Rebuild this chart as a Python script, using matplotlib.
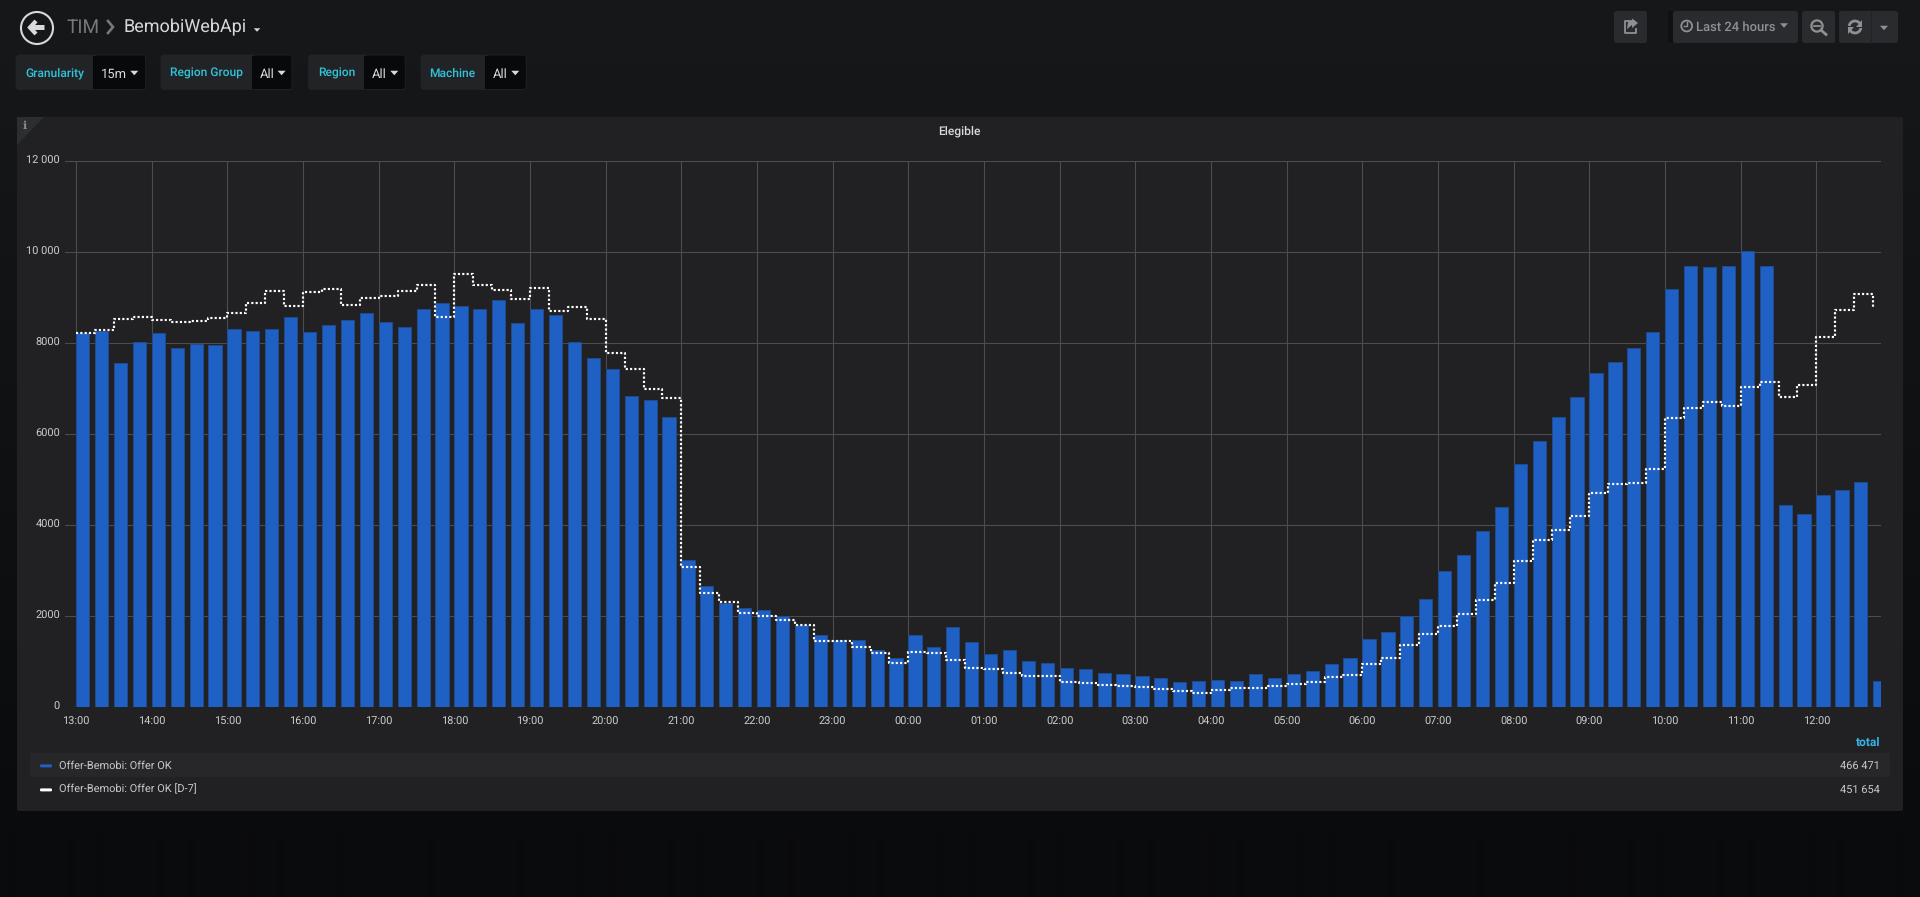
import numpy as np
import matplotlib
matplotlib.use("Agg")
import matplotlib.pyplot as plt
from matplotlib.patches import FancyBboxPatch, Polygon, Circle, Rectangle, Arc

plt.rcParams['font.family'] = ['Roboto', 'DejaVu Sans']
plt.rcParams['text.hinting'] = 'no_hinting'
plt.rcParams['text.hinting_factor'] = 1

offer_ok = [
    8220, 8264, 7560, 8022, 8220, 7890, 7993, 7963, 8315, 8278, 8322, 8571, 8250, 8395, 8520, 8660,
    8460, 8360, 8747, 8894, 8820, 8747, 8945, 8440, 8747, 8615, 8030, 7678, 7436, 6850, 6762, 6381,
    3238, 2667, 2286, 2176, 2132, 2000, 1810, 1582, 1480, 1480, 1260, 1092, 1582, 1319, 1758, 1429,
    1165, 1253, 1011, 974, 857, 850, 755, 733, 696, 637, 564, 571, 601, 579, 733, 645,
    725, 806, 952, 1077, 1502, 1656, 2000, 2381, 3004, 3341, 3875, 4403, 5348, 5850, 6388, 6813,
    7355, 7582, 7897, 8256, 9187, 9707, 9670, 9692, 10022, 9700, 4447, 4242, 4659, 4777, 4945, 585,
]
offer_ok_d7 = [
    8234, 8293, 8535, 8571, 8520, 8469, 8498, 8557, 8674, 8879, 9143, 8820, 9136, 9201, 8835, 9004,
    9033, 9150, 9289, 8571, 9516, 9282, 9165, 8974, 9216, 8718, 8791, 8542, 7795, 7436, 7004, 6799,
    3084, 2520, 2308, 2066, 2000, 1912, 1817, 1458, 1458, 1319, 1194, 982, 1216, 1201, 1048, 857,
    850, 755, 696, 689, 564, 535, 491, 462, 447, 410, 359, 322, 388, 418, 432, 469,
    505, 549, 667, 711, 945, 1084, 1363, 1612, 1788, 2059, 2352, 2733, 3223, 3685, 3900, 4212,
    4718, 4908, 4923, 5238, 6366, 6586, 6703, 6615, 7048, 7158, 6828, 7084, 8132, 8740, 9077, 8784,
]
step_minutes = 15
hour_labels = ["13:00", "14:00", "15:00", "16:00", "17:00", "18:00", "19:00", "20:00", "21:00", "22:00",
               "23:00", "00:00", "01:00", "02:00", "03:00", "04:00", "05:00", "06:00", "07:00", "08:00",
               "09:00", "10:00", "11:00", "12:00"]
y_ticks = [0, 2000, 4000, 6000, 8000, 10000, 12000]
y_labels = ["0", "2000", "4000", "6000", "8000", "10 000", "12 000"]
series_names = ["Offer-Bemobi: Offer OK", "Offer-Bemobi: Offer OK [D-7]"]
series_totals = ["466 471", "451 654"]
variables = [("Granularity", "15m"), ("Region Group", "All"), ("Region", "All"), ("Machine", "All")]

W, H = 1920, 897
fig = plt.figure(figsize=(W / 100, H / 100), dpi=100)

# ---------- background layer (pixel coordinates) ----------
bg = fig.add_axes([0, 0, 1, 1], zorder=0)
bg.set_xlim(0, W); bg.set_ylim(H, 0); bg.axis('off')
top = np.array([0x17, 0x18, 0x1a]) / 255
bot = np.array([0x0a, 0x0b, 0x0d]) / 255
frac = np.clip(np.linspace(0, 1, H) / 0.93, 0, 1)[:, None, None]
grad = top[None, None, :] * (1 - frac) + bot[None, None, :] * frac
bg.imshow(grad, extent=(0, W, H, 0), aspect='auto', interpolation='bilinear')
bg.set_xlim(0, W); bg.set_ylim(H, 0)


def rbox(ax, x0, y0, x1, y1, fc, r=2.5, ec='none', lw=0, z=1):
    p = FancyBboxPatch((x0, y0), x1 - x0, y1 - y0, boxstyle=f"round,pad=0,rounding_size={r}",
                       fc=fc, ec=ec, lw=lw, zorder=z, mutation_aspect=1)
    ax.add_patch(p)
    return p


PANEL = '#212124'
rbox(bg, 17, 117, 1903, 811, PANEL, r=2)
bg.add_patch(Polygon([(17, 117), (44, 117), (17, 145)], fc='#2d2e31', ec='none', zorder=2))
bg.add_patch(Rectangle((30, 753), 1860, 24, fc='#27272a', ec='none', zorder=2))

# ---------- chart ----------
px_left, px_right, px_top, px_bottom = 65.0, 1881.0, 161.3, 707.3
ax = fig.add_axes([px_left / W, 1 - px_bottom / H, (px_right - px_left) / W, (px_bottom - px_top) / H], zorder=1)
ax.patch.set_alpha(0)
minutes = np.arange(len(offer_ok)) * step_minutes
px_per_min = 75.67 / 60
xmin = -(76 - px_left) / px_per_min
xmax = (px_right - 76) / px_per_min
ax.set_xlim(xmin, xmax)
ax.set_ylim(0, 12000)
ax.bar(minutes, offer_ok, width=13.2 / px_per_min, align='edge', color='#1f60c4',
       edgecolor='#1f4b8e', linewidth=0.72, zorder=3)
ax.step(minutes, offer_ok_d7, where='post', color='white', linewidth=1.55,
        linestyle=(0, (1, 1)), zorder=4)
ax.set_xticks(np.arange(len(hour_labels)) * 60)
ax.set_xticklabels(hour_labels)
ax.set_yticks(y_ticks)
ax.set_yticklabels(y_labels)
ax.tick_params(axis='both', length=0, labelsize=8.0, labelcolor='#cbcccd')
ax.tick_params(axis='x', pad=6.6)
ax.tick_params(axis='y', pad=3.6)
ax.grid(True, color='#4c4c4e', linewidth=0.8, zorder=1)
ax.set_axisbelow(True)
for s in ax.spines.values():
    s.set_visible(False)
for lab in ax.get_yticklabels():
    lab.set_verticalalignment('center')

# ---------- overlay ----------
ov = fig.add_axes([0, 0, 1, 1], zorder=2)
ov.set_xlim(0, W); ov.set_ylim(H, 0); ov.axis('off'); ov.patch.set_alpha(0)


def caret(x, y, w=8, h=4.5, c='#d8d9da'):
    ov.add_patch(Polygon([(x - w / 2, y - h / 2), (x + w / 2, y - h / 2), (x, y + h / 2)], fc=c, ec='none', zorder=5))


ov.text(959.3, 131, "Elegible", ha='center', va='center', fontsize=8.6, fontweight='medium', color='#d8d9da')
ov.text(24.5, 125.5, "i", ha='center', va='center', fontsize=8, fontweight='bold',
        family=['DejaVu Serif'], color='#8e8e8e')

# header
TXT = '#d8d9da'
ov.add_patch(Circle((37, 28), 16, fc='none', ec=TXT, lw=1.5, zorder=5))
ov.plot([36, 30, 36], [21, 27.5, 34], color=TXT, lw=3, solid_capstyle='butt', solid_joinstyle='miter', zorder=5)
ov.plot([31, 44], [27.5, 27.5], color=TXT, lw=3.6, solid_capstyle='butt', zorder=5)
ov.text(67, 27.5, "TIM", ha='left', va='center', fontsize=13.6, color='#77787a')
ov.plot([108, 113, 108], [21, 27, 33], color='#77787a', lw=1.9, solid_joinstyle='miter', zorder=5)
ov.text(123.5, 27.5, "BemobiWebApi", ha='left', va='center', fontsize=13.2, color=TXT)
caret(257, 30, w=6.5, h=3.5)

# template variables
pills = [
    (16, 92.7, 145.7, 25.3, 101, 134.3),
    (161, 252, 292, 170, 259.6, 281.6),
    (308.3, 364, 405.3, 317.7, 372, 394.3),
    (421, 484.7, 526.3, 429.3, 493, 515.3),
]
for (name, val), (x0, xm, x1, tx, vx, cx) in zip(variables, pills):
    rbox(ov, x0, 55, x1, 89.5, '#08090b', r=3, ec='#202124', lw=0.7, z=2)
    rbox(ov, x0, 55, xm + 4, 89.5, '#222327', r=3, z=3)
    ov.add_patch(Rectangle((xm, 55.6), 5, 33.3, fc='#08090b', ec='none', zorder=3.5))
    ov.text(tx, 76.5, name, ha='left', va='baseline', fontsize=8.7, fontweight='medium', color='#2fc4d8', zorder=6)
    ov.text(vx, 78, val, ha='left', va='baseline', fontsize=9.6, color=TXT, zorder=6)
    caret(cx, 73, w=8, h=4.5)

# right toolbar
BTN = '#2a2b2e'
ICON = '#8f9092'
for x0, x1 in [(1614, 1647), (1673, 1798), (1802, 1835), (1839, 1898)]:
    rbox(ov, x0, 11, x1, 43, BTN, r=2.5, z=2)
ov.add_patch(Rectangle((1668, 11), 5, 32, fc='#101113', ec='none', zorder=1.5))
ov.plot([1870.7, 1870.7], [11, 43], color='#212225', lw=0.8, zorder=3)
# share icon
ov.plot([1634, 1625, 1625, 1636, 1636], [21, 21, 33, 33, 29], color=ICON, lw=1.3, zorder=5)
ov.add_patch(Polygon([(1638, 23), (1632, 18.5), (1632, 21), (1628, 22), (1627, 29), (1632, 25), (1632, 28)],
                     fc=ICON, ec='none', zorder=5))
# clock icon
ov.add_patch(Circle((1686.7, 26), 5.4, fc='none', ec=ICON, lw=1.3, zorder=5))
ov.plot([1686.7, 1686.7, 1683.5], [22.5, 26.5, 26.5], color=ICON, lw=1, zorder=5)
ov.text(1696, 27, "Last 24 hours", ha='left', va='center', fontsize=9.2, fontweight='medium', color=ICON, zorder=6)
caret(1784, 25.5, w=8, h=4.5, c=ICON)
# zoom out icon
ov.add_patch(Circle((1817, 26), 5.6, fc='none', ec=ICON, lw=1.6, zorder=5))
ov.plot([1814, 1820], [26, 26], color=ICON, lw=1.3, zorder=5)
ov.plot([1821, 1826], [30, 34.5], color=ICON, lw=2, zorder=5)
# refresh icon
ov.add_patch(Arc((1855, 27), 12, 12, theta1=190, theta2=340, ec=ICON, lw=2, zorder=5))
ov.add_patch(Arc((1855, 27), 12, 12, theta1=10, theta2=160, ec=ICON, lw=2, zorder=5))
ov.add_patch(Polygon([(1862, 20), (1862, 27), (1856, 27)], fc=ICON, ec='none', zorder=5))
ov.add_patch(Polygon([(1848, 34), (1848, 27), (1854, 27)], fc=ICON, ec='none', zorder=5))
caret(1884, 28, w=8, h=4.5, c=ICON)

# legend
legend_colors = ['#1f60c4', '#ffffff']
legend_y = [768.5, 792.5]
ov.text(1880, 746, "total", ha='right', va='baseline', fontsize=8.3, fontweight='bold', color='#33b5e5')
for name, total, col, y in zip(series_names, series_totals, legend_colors, legend_y):
    rbox(ov, 40, y - 4.1, 52, y - 1.1, col, r=1.2, z=4)
    ov.text(59, y, name, ha='left', va='baseline', fontsize=8.0, color='#c8c9ca')
    ov.text(1880, y, total, ha='right', va='baseline', fontsize=8.1, color='#c8c9ca')

fig.savefig("out.png", dpi=100, facecolor='#0b0c0e')
